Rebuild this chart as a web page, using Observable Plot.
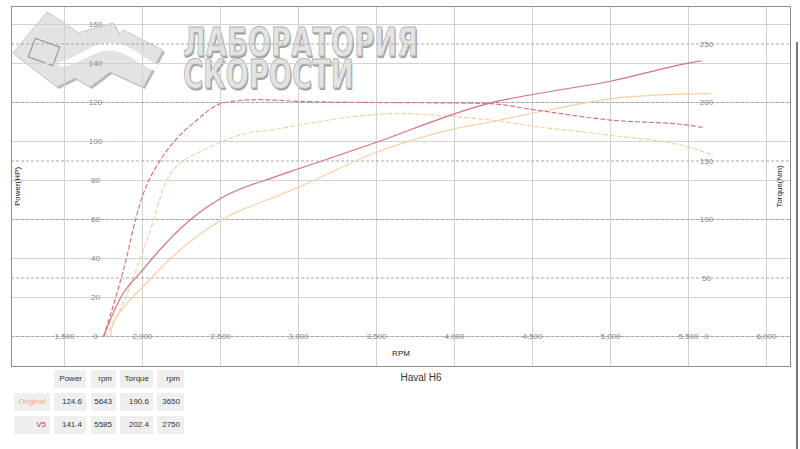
<!DOCTYPE html>
<html><head><meta charset="utf-8">
<script src="https://cdn.jsdelivr.net/npm/d3@7"></script>
<script src="https://cdn.jsdelivr.net/npm/@observablehq/plot@0.6"></script>
<style>
body{margin:0;background:#fff;font-family:"Liberation Sans",Arial,sans-serif;}
#wrap{position:relative;width:800px;height:449px;overflow:hidden;background:#fff;}
#logo{position:absolute;left:0;top:0;z-index:0;}
#logotxt{position:absolute;left:183px;top:21px;line-height:32px;font-family:"DejaVu Sans";font-weight:bold;font-variant:small-caps;font-size:56px;color:#e4e4e4;-webkit-text-stroke:1px #b4b4b4;text-shadow:1.5px 1.5px 0 #a0a0a0;white-space:pre;transform-origin:0 0;z-index:0;}
#chart{position:absolute;left:0;top:0;z-index:1;}
#tbl{position:absolute;left:0;top:0;z-index:2;}
.cell{position:absolute;background:#efefef;font-size:8px;color:#333;text-align:right;box-sizing:border-box;padding-right:4px;}
#edge{position:absolute;left:796px;top:42px;width:2px;height:407px;background:#777;z-index:3;}
</style></head><body>
<div id="wrap">
<svg id="logo" width="800" height="449">
  <polygon points="47,12 66,24 78,33 113,23 120,35 123,30 163,50 143,87 110,72 90,87 75,78 57,87 13,53" fill="#b8b8b8" transform="translate(2,2)"/>
  <polygon points="47,12 66,24 78,33 113,23 120,35 123,30 163,50 143,87 110,72 90,87 75,78 57,87 13,53" fill="#e3e3e3" stroke="#c8c8c8"/>
  <path d="M58,62 C80,58 92,40 116,43 C134,46 144,60 158,64 L155,71 C140,66 132,55 115,51 C95,48 82,64 60,67 Z" fill="#fff"/>
  <rect x="31" y="42" width="26" height="20" transform="rotate(20 44 52)" fill="none" stroke="#999" stroke-width="1.2"/>
</svg>
<div id="logotxt" data-w="235">лаборатория
скорости</div>
<div id="chart"></div>
<div id="tbl"></div>
<div id="edge"></div>
</div>
<script>
// ---- data ----
const xTicks = [1500, 2000, 2500, 3000, 3500, 4000, 4500, 5000, 5500, 6000];
const powerTicks = [0, 20, 40, 60, 80, 100, 120, 140, 160];
const torqueTicks = [0, 50, 100, 150, 200, 250];

const v5PowerRpm = [1750, 1860, 2000, 2062, 2308, 2500, 2853, 3000, 3500, 4000, 4231, 4500, 5000, 5500, 5585];
const v5Power    = [0, 20, 34, 40, 60, 70.8, 82, 86, 99.6, 114.2, 119.8, 124.1, 130.9, 140.2, 141.4];
const v5TorqueRpm = [1750, 1827, 1897, 1955, 2000, 2106, 2212, 2340, 2500, 2660, 2750, 2853, 3000, 3500, 4000, 4231, 4500, 5000, 5500, 5585];
const v5Torque    = [0, 33, 67, 100, 120, 149, 168, 184, 199, 202, 202.4, 202, 201, 200, 199.6, 199, 194, 185, 180.6, 178.7];

const origPowerRpm = [1795, 1805, 1848, 1934, 2000, 2179, 2500, 2853, 3000, 3500, 4000, 4231, 4500, 5000, 5500, 5643];
const origPower    = [0, 5, 11.6, 20, 25.3, 40, 59.5, 71.8, 76.6, 94.5, 106.5, 110, 114.5, 121.9, 124.4, 124.6];
const origTorqueRpm = [1763, 1891, 1987, 2073, 2126, 2180, 2270, 2340, 2500, 2660, 2853, 3000, 3500, 3650, 4000, 4231, 4500, 5000, 5500, 5643];
const origTorque    = [0, 33, 67, 100, 124, 139, 151, 156, 166, 173.5, 177, 180.6, 189.8, 190.6, 187.8, 185, 179.8, 172, 162, 155.8];

const seriesNames = ["Original", "V5"];
const tableHeaders = ["Power", "rpm", "Torque", "rpm"];
const peakPower = ["124.6", "141.4"];
const peakPowerRpm = ["5643", "5585"];
const peakTorque = ["190.6", "202.4"];
const peakTorqueRpm = ["3650", "2750"];

// ---- logo text width fit ----
const lt = document.getElementById("logotxt");
lt.style.transform = `scaleX(${(+lt.dataset.w) / lt.scrollWidth})`;

// ---- styling ----
const colV5 = "#d8737f", colOrig = "#f8cfa0";
const K = 0.6; // torque -> power-axis units
const zip = (xs, ys) => xs.map((x, i) => ({rpm: x, v: ys[i]}));

const chart = Plot.plot({
  width: 800, height: 449,
  marginLeft: 11, marginRight: 10, marginTop: 6, marginBottom: 83,
  style: {background: "transparent", fontFamily: "Liberation Sans, Arial, sans-serif", fontSize: "8px", color: "#888"},
  x: {domain: [1160, 6154]},
  y: {domain: [-15.385, 169.23]},
  marks: [
    Plot.gridX(xTicks, {stroke: "#d2d2d2", strokeOpacity: 1}),
    Plot.gridY(powerTicks, {stroke: "#d2d2d2", strokeOpacity: 1}),
    Plot.gridY(torqueTicks.map(t => t * K), {stroke: "#a8a8a8", strokeOpacity: 1, strokeDasharray: "3,2"}),
    Plot.frame({stroke: "#8e8e8e"}),
    Plot.axisX(xTicks, {anchor: "bottom", tickSize: 0, tickPadding: 0, dy: -30, lineAnchor: "middle", tickFormat: d3.format(","), fill: "#888", label: null}),
    Plot.axisY(powerTicks, {anchor: "left", tickSize: 0, tickPadding: 0, dx: 84, textAnchor: "middle", fill: "#888", label: null}),
    Plot.axisY(torqueTicks.map(t => t * K), {anchor: "right", tickSize: 0, tickPadding: 0, dx: -84, textAnchor: "middle", tickFormat: d => String(Math.round(d / K)), fill: "#888", label: null}),
    Plot.line(zip(origPowerRpm, origPower), {x: "rpm", y: "v", stroke: colOrig, strokeWidth: 1.2, curve: "monotone-x"}),
    Plot.line(zip(origTorqueRpm, origTorque), {x: "rpm", y: d => d.v * K, stroke: colOrig, strokeWidth: 1.2, strokeDasharray: "4,3", curve: "monotone-x"}),
    Plot.line(zip(v5PowerRpm, v5Power), {x: "rpm", y: "v", stroke: colV5, strokeWidth: 1.2, curve: "monotone-x"}),
    Plot.line(zip(v5TorqueRpm, v5Torque), {x: "rpm", y: d => d.v * K, stroke: colV5, strokeWidth: 1.2, strokeDasharray: "4,3", curve: "monotone-x"}),
    Plot.text(["RPM"], {text: d => d, frameAnchor: "bottom", lineAnchor: "middle", textAnchor: "middle", dy: -13, fill: "#222", fontSize: 8}),
    Plot.text(["Power(HP)"], {text: d => d, frameAnchor: "left", lineAnchor: "middle", textAnchor: "middle", rotate: -90, dx: 6, fill: "#222", fontSize: 8}),
    Plot.text(["Torque(Nm)"], {text: d => d, frameAnchor: "right", lineAnchor: "middle", textAnchor: "middle", rotate: -90, dx: -11, fill: "#222", fontSize: 8}),
    Plot.text(["Haval H6"], {text: d => d, frameAnchor: "bottom", lineAnchor: "middle", textAnchor: "middle", dy: 11, dx: 20, fill: "#333", fontSize: 10})
  ]
});
document.getElementById("chart").appendChild(chart);

// ---- peak table ----
const tbl = document.getElementById("tbl");
const colLeft = [54, 91, 120, 157], colW = [32, 25, 33, 27];
const rowTop = [370, 393, 416], rowH = 18;
function cell(txt, left, top, w, color) {
  const d = document.createElement("div");
  d.className = "cell";
  d.textContent = txt;
  d.style.left = left + "px"; d.style.top = top + "px";
  d.style.width = w + "px"; d.style.height = rowH + "px";
  d.style.lineHeight = rowH + "px";
  if (color) d.style.color = color;
  tbl.appendChild(d);
}
tableHeaders.forEach((h, j) => cell(h, colLeft[j], rowTop[0], colW[j]));
const nameColors = ["#f3ad7c", "#cc3a48"];
seriesNames.forEach((n, i) => {
  const top = rowTop[i + 1];
  cell(n, 14, top, 36, nameColors[i]);
  [peakPower[i], peakPowerRpm[i], peakTorque[i], peakTorqueRpm[i]].forEach((v, j) => cell(v, colLeft[j], top, colW[j]));
});
</script>
</body></html>
